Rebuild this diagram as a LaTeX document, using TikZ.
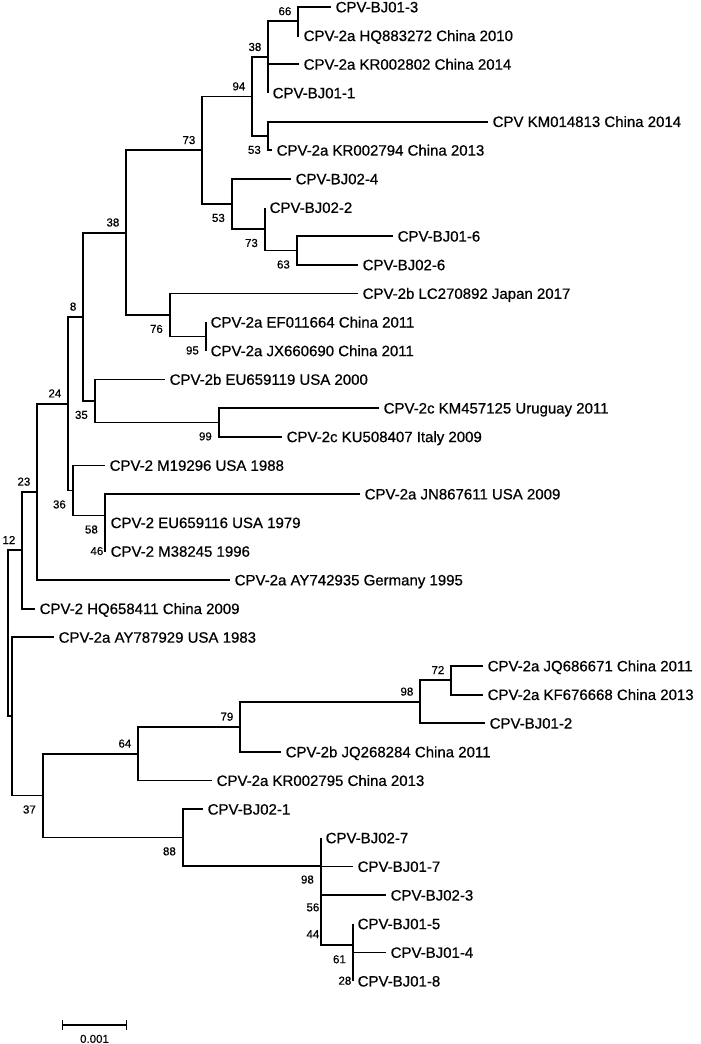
\documentclass[tikz,border=0pt]{standalone}
\usepackage{fontspec}
\setmainfont{Liberation Sans}
\newfontfamily\treefont{Liberation Sans}[FakeBold=0.6]
\usetikzlibrary{positioning,arrows.meta}
\begin{document}
\begin{tikzpicture}[x=1pt, y=-28.65pt,
  branch/.style={line width=1.8pt},
  leaf/.style={anchor=west, inner xsep=4.5pt, inner ysep=0pt, text height=10.7pt, text depth=0pt, font=\treefont\fontsize{15}{18}\selectfont},
  bs/.style={inner sep=0pt, text height=8.2pt, text depth=0pt, font=\treefont\fontsize{11.5}{13}\selectfont},
  bsa/.style={bs, above left=6pt and 6.5pt of #1},
  bsb/.style={bs, below left=9.5pt and 7pt of #1},
  bsc/.style={bs, below left=9.5pt and 1.5pt of #1}]
\useasboundingbox (0,-0.2443) rectangle (700,36.195);

% taxa
\node[leaf] (t1) at (331,0) {CPV-BJ01-3};
\node[leaf] (t2) at (299,1) {CPV-2a HQ883272 China 2010};
\node[leaf] (t3) at (299,2) {CPV-2a KR002802 China 2014};
\node[leaf] (t4) at (268,3) {CPV-BJ01-1};
\node[leaf] (t5) at (488,4) {CPV KM014813 China 2014};
\node[leaf] (t6) at (272,5) {CPV-2a KR002794 China 2013};
\node[leaf] (t7) at (291,6) {CPV-BJ02-4};
\node[leaf] (t8) at (265,7) {CPV-BJ02-2};
\node[leaf] (t9) at (393,8) {CPV-BJ01-6};
\node[leaf] (t10) at (358,9) {CPV-BJ02-6};
\node[leaf] (t11) at (358,10) {CPV-2b LC270892 Japan 2017};
\node[leaf] (t12) at (206,11) {CPV-2a EF011664 China 2011};
\node[leaf] (t13) at (206,12) {CPV-2a JX660690 China 2011};
\node[leaf] (t14) at (165,13) {CPV-2b EU659119 USA 2000};
\node[leaf] (t15) at (379,14) {CPV-2c KM457125 Uruguay 2011};
\node[leaf] (t16) at (282,15) {CPV-2c KU508407 Italy 2009};
\node[leaf] (t17) at (105,16) {CPV-2 M19296 USA 1988};
\node[leaf] (t18) at (360,17) {CPV-2a JN867611 USA 2009};
\node[leaf] (t19) at (106,18) {CPV-2 EU659116 USA 1979};
\node[leaf] (t20) at (106,19) {CPV-2 M38245 1996};
\node[leaf] (t21) at (230,20) {CPV-2a AY742935 Germany 1995};
\node[leaf] (t22) at (35,21) {CPV-2 HQ658411 China 2009};
\node[leaf] (t23) at (54,22) {CPV-2a AY787929 USA 1983};
\node[leaf] (t24) at (483,23) {CPV-2a JQ686671 China 2011};
\node[leaf] (t25) at (483,24) {CPV-2a KF676668 China 2013};
\node[leaf] (t26) at (485,25) {CPV-BJ01-2};
\node[leaf] (t27) at (281,26) {CPV-2b JQ268284 China 2011};
\node[leaf] (t28) at (212,27) {CPV-2a KR002795 China 2013};
\node[leaf] (t29) at (203,28) {CPV-BJ02-1};
\node[leaf] (t30) at (321,29) {CPV-BJ02-7};
\node[leaf] (t31) at (353,30) {CPV-BJ01-7};
\node[leaf] (t32) at (386,31) {CPV-BJ02-3};
\node[leaf] (t33) at (353,32) {CPV-BJ01-5};
\node[leaf] (t34) at (386,33) {CPV-BJ01-4};
\node[leaf] (t35) at (353,34) {CPV-BJ01-8};

% inner nodes
\coordinate (n66) at (298,0.5);
\coordinate (n38a) at (268,1.75);
\coordinate (n53a) at (268,4.5);
\coordinate (n94) at (252,3.125);
\coordinate (n63) at (297,8.5);
\coordinate (n73b) at (265,7.75);
\coordinate (n53b) at (232,6.875);
\coordinate (n73a) at (202,5);
\coordinate (n95) at (206,11.5);
\coordinate (n76) at (170,10.75);
\coordinate (n38b) at (126,7.875);
\coordinate (n99) at (219,14.5);
\coordinate (n35) at (95,13.75);
\coordinate (n8) at (83,10.8125);
\coordinate (n46) at (105,18.5);
\coordinate (n58) at (105,17.75);
\coordinate (n36) at (73,16.875);
\coordinate (n24) at (68,13.84375);
\coordinate (n23) at (37,16.921875);
\coordinate (n12) at (22,18.9609);
\coordinate (n72) at (451,23.5);
\coordinate (n98a) at (420,24.25);
\coordinate (n79) at (240,25.125);
\coordinate (n64) at (138,26.0625);
\coordinate (n28) at (353,33.5);
\coordinate (n61) at (353,32.75);
\coordinate (n44) at (321,31.875);
\coordinate (n56) at (321,30.9375);
\coordinate (n98b) at (321,29.96875);
\coordinate (n88) at (183,28.984);
\coordinate (n37) at (43,27.523);
\coordinate (nr) at (12,24.76);
\coordinate (root) at (8,21.86);

% branches
\draw[branch] (n66) |- (t1.west) (n66) |- (t2.west);
\draw[branch] (n38a) |- (n66) (n38a) |- (t3.west) (n38a) |- (t4.west);
\draw[branch] (n53a) |- (t5.west) (n53a) |- (t6.west);
\draw[branch] (n94) |- (n38a) (n94) |- (n53a);
\draw[branch] (n73a) |- (n94) (n73a) |- (n53b);
\draw[branch] (n53b) |- (t7.west) (n53b) |- (n73b);
\draw[branch] (n73b) |- (t8.west) (n73b) |- (n63);
\draw[branch] (n63) |- (t9.west) (n63) |- (t10.west);
\draw[branch] (n38b) |- (n73a) (n38b) |- (n76);
\draw[branch] (n76) |- (t11.west) (n76) |- (n95);
\draw[branch] (n95) |- (t12.west) (n95) |- (t13.west);
\draw[branch] (n8) |- (n38b) (n8) |- (n35);
\draw[branch] (n35) |- (t14.west) (n35) |- (n99);
\draw[branch] (n99) |- (t15.west) (n99) |- (t16.west);
\draw[branch] (n24) |- (n8) (n24) |- (n36);
\draw[branch] (n36) |- (t17.west) (n36) |- (n58);
\draw[branch] (n58) |- (t18.west) (n58) |- (n46);
\draw[branch] (n46) |- (t19.west) (n46) |- (t20.west);
\draw[branch] (n23) |- (n24) (n23) |- (t21.west);
\draw[branch] (n12) |- (n23) (n12) |- (t22.west);
\draw[branch] (root) |- (n12) (root) |- (nr);
\draw[branch] (nr) |- (t23.west) (nr) |- (n37);
\draw[branch] (n37) |- (n64) (n37) |- (n88);
\draw[branch] (n64) |- (n79) (n64) |- (t28.west);
\draw[branch] (n79) |- (n98a) (n79) |- (t27.west);
\draw[branch] (n98a) |- (n72) (n98a) |- (t26.west);
\draw[branch] (n72) |- (t24.west) (n72) |- (t25.west);
\draw[branch] (n88) |- (t29.west) (n88) |- (n98b);
\draw[branch] (n98b) |- (t30.west) (n98b) |- (n56);
\draw[branch] (n56) |- (t31.west) (n56) |- (n44);
\draw[branch] (n44) |- (t32.west) (n44) |- (n61);
\draw[branch] (n61) |- (t33.west) (n61) |- (n28);
\draw[branch] (n28) |- (t34.west) (n28) |- (t35.west);

% bootstrap values
\node[bsa=n66] (b66) {66};
\node[bsa=n38a] (b38a) {38};
\node[bsa=n94] (b94) {94};
\node[bsb=n53a] (b53a) {53};
\node[bsa=n73a] (b73a) {73};
\node[bsb=n53b] (b53b) {53};
\node[bsb=n73b] (b73b) {73};
\node[bsb=n63] (b63) {63};
\node[bsa=n38b] (b38b) {38};
\node[bsb=n76] (b76) {76};
\node[bsb=n95] (b95) {95};
\node[bsa=n8] (b8) {8};
\node[bsb=n35] (b35) {35};
\node[bsb=n99] (b99) {99};
\node[bsa=n24] (b24) {24};
\node[bsb=n36] (b36) {36};
\node[bsb=n58] (b58) {58};
\node[bsc=n46] (b46) {46};
\node[bsa=n23] (b23) {23};
\node[bsa=n12] (b12) {12};
\node[bsa=n72] (b72) {72};
\node[bsa=n98a] (b98a) {98};
\node[bsa=n79] (b79) {79};
\node[bsa=n64] (b64) {64};
\node[bsb=n37] (b37) {37};
\node[bsb=n88] (b88) {88};
\node[bsb=n98b] (b98b) {98};
\node[bsc=n56] (b56) {56};
\node[bsc=n44] (b44) {44};
\node[bsb=n61] (b61) {61};
\node[bsc=n28] (b28) {28};

% scale bar
\coordinate (sl) at (62,35.53);
\coordinate (sr) at (127,35.53);
\draw[line width=1.4pt, {Bar[width=10pt]}-{Bar[width=10pt]}] (sl) -- (sr) node[bs, midway, below=9pt] (slab) {0.001};
\end{tikzpicture}
\end{document}
